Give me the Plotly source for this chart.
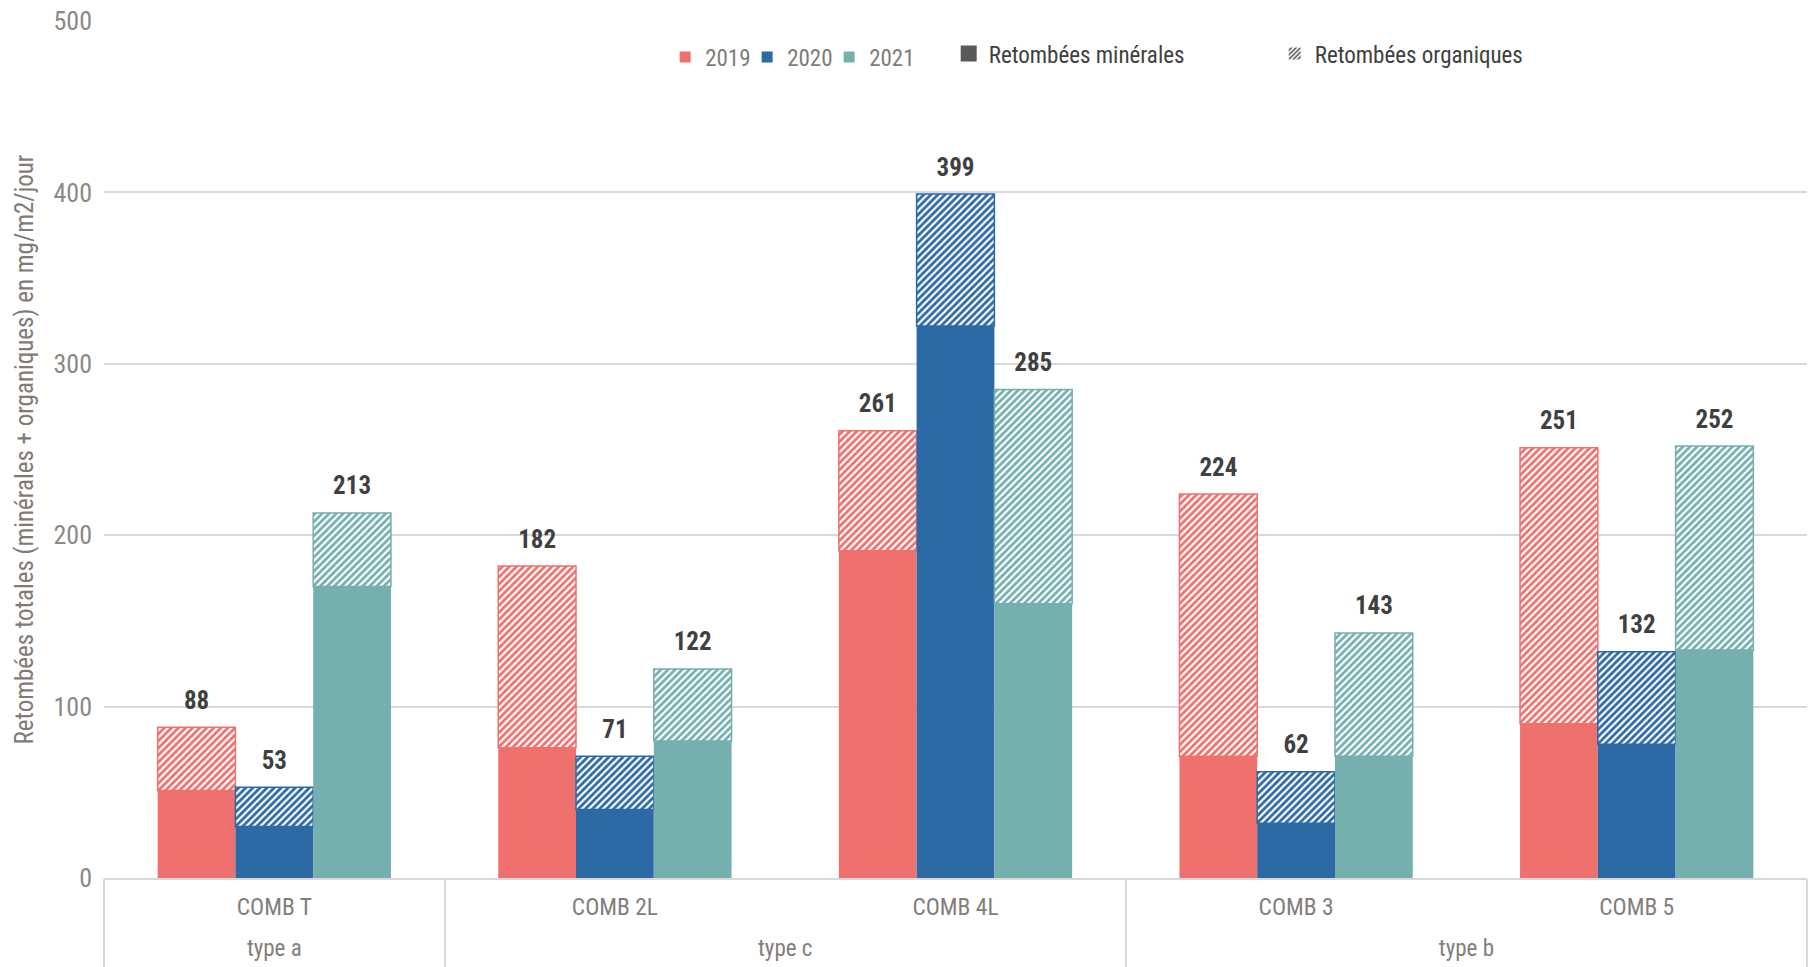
import plotly.graph_objects as go

# Sampling sites, grouped by site type
types = ["type a", "type c", "type c", "type b", "type b"]
sites = ["COMB T", "COMB 2L", "COMB 4L", "COMB 3", "COMB 5"]
years = ["2019", "2020", "2021"]

# Total deposition (mineral + organic), mg/m2/day
total_2019 = [88, 182, 261, 224, 251]
total_2020 = [53, 71, 399, 62, 132]
total_2021 = [213, 122, 285, 143, 252]

# Mineral share of the deposition, mg/m2/day
mineral_2019 = [51, 76, 191, 71, 90]
mineral_2020 = [30, 40, 322, 32, 78]
mineral_2021 = [170, 80, 160, 71, 133]

totals = {"2019": total_2019, "2020": total_2020, "2021": total_2021}
minerals = {"2019": mineral_2019, "2020": mineral_2020, "2021": mineral_2021}
colors = {"2019": "#EE716E", "2020": "#2C6AA6", "2021": "#75AFAE"}

NARROW = "Liberation Sans Narrow, Arial Narrow, Roboto Condensed, sans-serif"
GRID = "#D9D9D9"
BAR_GAP = 0.315

# Site-type groups: label centred under its sites, dividers on group edges
group_names, group_centres, group_edges = [], [], [-0.5]
for i, t in enumerate(types):
    if not group_names or group_names[-1] != t:
        group_names.append(t)
        group_centres.append([i])
    else:
        group_centres[-1].append(i)
group_centres = [sum(ix) / len(ix) for ix in group_centres]
for i in range(1, len(types)):
    if types[i] != types[i - 1]:
        group_edges.append(i - 0.5)
group_edges.append(len(types) - 0.5)

fig = go.Figure()

for yr in years:
    tot = totals[yr]
    mine = minerals[yr]
    orga = [t - m for t, m in zip(tot, mine)]
    c = colors[yr]
    # solid lower part: mineral deposition
    fig.add_trace(go.Bar(
        x=sites, y=mine, offsetgroup=yr, showlegend=False,
        marker=dict(color=c, line=dict(width=0)),
        hoverinfo="skip",
    ))
    # hatched upper part: organic deposition
    fig.add_trace(go.Bar(
        x=sites, y=orga, base=mine, offsetgroup=yr, showlegend=False,
        marker=dict(
            color=c,
            line=dict(color=c, width=1.5),
            pattern=dict(shape="/", fgcolor="white", bgcolor=c,
                         size=5, solidity=0.45, fillmode="replace"),
        ),
        hoverinfo="skip",
    ))
    # total value above each stack
    fig.add_trace(go.Scatter(
        x=sites, y=tot, offsetgroup=yr, showlegend=False,
        mode="markers+text",
        marker=dict(size=18, opacity=0),
        text=[f"<b>{t}</b>" for t in tot],
        textposition="top center",
        textfont=dict(family=NARROW, size=25, color="#404040"),
        cliponaxis=False,
        hoverinfo="skip",
    ))

# Legend entries (no visible data, drawn on the group axis)
for yr in years:
    fig.add_trace(go.Scatter(
        x=[group_centres[0]], y=[None], xaxis="x2", mode="markers", name=yr,
        marker=dict(symbol="square", size=11, color=colors[yr]),
        legend="legend",
    ))
fig.add_trace(go.Scatter(
    x=[group_centres[0]], y=[None], xaxis="x2", mode="markers",
    name="Retombées minérales",
    marker=dict(symbol="square", size=24, color="#595959"),
    legend="legend2",
))
fig.add_trace(go.Bar(
    x=[group_centres[0]], y=[None], xaxis="x2",
    name="Retombées organiques",
    marker=dict(color="white", line=dict(width=0),
                pattern=dict(shape="/", fgcolor="#595959", bgcolor="white",
                             size=4, solidity=0.5, fillmode="replace")),
    legend="legend2",
))

x_range = [-0.5, len(sites) - 0.5]

fig.update_layout(
    width=1811, height=967,
    margin=dict(l=104, r=4, t=21, b=89),
    paper_bgcolor="white", plot_bgcolor="white",
    barmode="group", bargap=BAR_GAP, bargroupgap=0,
    scattermode="group", scattergap=BAR_GAP,
    font=dict(family=NARROW, color="#7F7B78"),
    legend=dict(
        orientation="h", x=0.3295, y=0.958, xanchor="left", yanchor="middle",
        font=dict(family=NARROW, size=23, color="#7F7B78"),
        itemsizing="trace", entrywidth=37, entrywidthmode="pixels",
        bgcolor="rgba(0,0,0,0)",
    ),
    legend2=dict(
        orientation="h", x=0.496, y=0.962, xanchor="left", yanchor="middle",
        font=dict(family=NARROW, size=23, color="#404040"),
        itemsizing="trace", entrywidth=281, entrywidthmode="pixels",
        bgcolor="rgba(0,0,0,0)",
    ),
    yaxis=dict(
        range=[0, 500], dtick=100, showgrid=True, gridcolor=GRID, gridwidth=1.5,
        zeroline=False, ticks="", ticklabelstandoff=11,
        tickfont=dict(family=NARROW, size=26, color="#8C8884"),
        title=dict(text="Retombées totales (minérales + organiques) en mg/m2/jour",
                   font=dict(family=NARROW, size=25, color="#7F7B78"), standoff=12),
    ),
    xaxis=dict(
        type="category", range=x_range, showline=True, linecolor=GRID, linewidth=2,
        ticks="", ticklabelstandoff=7, showgrid=False,
        tickfont=dict(family=NARROW, size=23.5, color="#827E7A"),
    ),
    xaxis2=dict(
        overlaying="x", anchor="y", side="bottom", range=x_range,
        showgrid=False, zeroline=False, showline=False,
        tickmode="array", tickvals=group_centres, ticktext=group_names,
        ticks="", ticklabelstandoff=54,
        tickfont=dict(family=NARROW, size=23, color="#827E7A"),
        minor=dict(tickmode="array", tickvals=group_edges, ticks="outside",
                   ticklen=90, tickwidth=2, tickcolor=GRID, showgrid=False),
    ),
)

fig.write_html("out.html")
